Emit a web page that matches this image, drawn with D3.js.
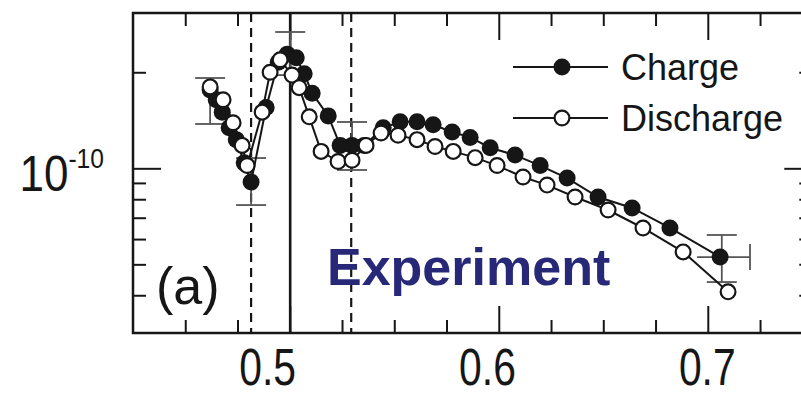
<!DOCTYPE html>
<html>
<head>
<meta charset="utf-8">
<script src="https://cdn.jsdelivr.net/npm/d3@7"></script>
<style>
body{margin:0;background:#fff;}
svg{display:block;font-family:"Liberation Sans",Arial,Helvetica,sans-serif;}
</style>
</head>
<body>
<div class="plot"></div>
<script>
// values (x = composition, D in cm2/s)
var chargeX = [0.4619,0.4648,0.4677,0.4710,0.4744,0.4782,0.4815,0.4887,0.4945,0.4988,0.5031,0.5069,0.5107,0.5184,0.5241,0.5298,0.5356,0.5447,0.5528,0.5609,0.5686,0.5777,0.5863,0.5959,0.6078,0.6198,0.6327,0.6475,0.6638,0.6819,0.7059];
var chargeD = [1.76e-10,1.64e-10,1.50e-10,1.34e-10,1.23e-10,1.04e-10,0.906e-10,1.55e-10,2.15e-10,2.28e-10,2.22e-10,1.98e-10,1.72e-10,1.46e-10,1.18e-10,1.18e-10,1.18e-10,1.34e-10,1.40e-10,1.40e-10,1.37e-10,1.30e-10,1.25e-10,1.16e-10,1.10e-10,1.02e-10,0.932e-10,0.813e-10,0.751e-10,0.650e-10,0.527e-10];

var dischargeX = [0.4619,0.4681,0.4729,0.4772,0.4796,0.4868,0.4906,0.4954,0.5011,0.5045,0.5093,0.5150,0.5231,0.5298,0.5365,0.5437,0.5518,0.5609,0.5695,0.5782,0.5887,0.5992,0.6116,0.6231,0.6365,0.6523,0.6690,0.6882,0.7097];
var dischargeD = [1.80e-10,1.64e-10,1.39e-10,1.18e-10,1.02e-10,1.50e-10,2.00e-10,2.19e-10,1.96e-10,1.79e-10,1.45e-10,1.13e-10,1.05e-10,1.06e-10,1.18e-10,1.29e-10,1.27e-10,1.23e-10,1.17e-10,1.13e-10,1.08e-10,1.02e-10,0.939e-10,0.886e-10,0.813e-10,0.740e-10,0.650e-10,0.547e-10,0.410e-10];

// vertical error bars
var errX  = [0.4619, 0.4815, 0.5002, 0.5298, 0.7067];
var errLo = [1.377e-10, 0.767e-10, 1.96e-10, 0.988e-10, 0.440e-10];
var errHi = [1.919e-10, 1.077e-10, 2.675e-10, 1.397e-10, 0.618e-10];
// horizontal error bar on last charge point
var hErrY  = [0.527e-10];
var hErrLo = [0.6949];
var hErrHi = [0.7202];

// phase boundary markers
var solidLines  = [0.5002];
var dashedLines = [0.4815, 0.5294];

var xMajor = [0.5, 0.6, 0.7];
var xMinor = [0.45, 0.475, 0.525, 0.55, 0.575, 0.625, 0.65, 0.675, 0.725];
var yMajor = [1e-10];
var yMinor = [4e-11, 5e-11, 6e-11, 7e-11, 8e-11, 9e-11, 2e-10];

var legendNames = ['Charge', 'Discharge'];

var W = 801, H = 398;
var m = {t:13, l:133};
var w = 679.3, h = 320;

var svg = d3.select('.plot').append('svg')
	.attr('width', W)
	.attr('height', H);

var g = svg.append('g')
	.attr('transform', 'translate(' + m.l + ',' + m.t + ')');

var x = d3.scaleLinear().domain([0.425, 0.75]).range([0, w]);
var y = d3.scaleLog().domain([3.046e-11, 3.068e-10]).range([h, 0]);

var ink = '#161616';

// axes, ticks pointing inward
function styleAxis(sel){
	sel.select('.domain').remove();
	sel.selectAll('.tick line').attr('stroke', ink).attr('stroke-width', 2);
}
g.append('g').attr('transform', 'translate(0,' + h + ')')
	.call(d3.axisBottom(x).tickValues(xMinor).tickSize(-13).tickFormat('')).call(styleAxis);
var bx = g.append('g').attr('transform', 'translate(0,' + h + ')')
	.call(d3.axisBottom(x).tickValues(xMajor).tickSize(-27).tickPadding(16).tickFormat(d3.format('.1f')))
	.call(styleAxis);
// the printed labels drift left of their ticks towards the low end
bx.selectAll('text')
	.attr('font-size', 51).attr('fill', ink)
	.attr('font-family', '"Liberation Sans",Arial,sans-serif')
	.attr('transform', d => 'translate(' + ((d - 0.7) * 108 - 1) + ',0) scale(0.8,1)');

g.append('g').call(d3.axisTop(x).tickValues(xMinor).tickSize(-13).tickFormat('')).call(styleAxis);
g.append('g').call(d3.axisTop(x).tickValues(xMajor).tickSize(-27).tickFormat('')).call(styleAxis);

g.append('g').call(d3.axisLeft(y).tickValues(yMinor).tickSize(-13).tickFormat('')).call(styleAxis);
g.append('g').call(d3.axisLeft(y).tickValues(yMajor).tickSize(-28).tickFormat('')).call(styleAxis);
g.append('g').attr('transform', 'translate(' + w + ',0)')
	.call(d3.axisRight(y).tickValues(yMinor).tickSize(-13).tickFormat('')).call(styleAxis);
g.append('g').attr('transform', 'translate(' + w + ',0)')
	.call(d3.axisRight(y).tickValues(yMajor).tickSize(-28).tickFormat('')).call(styleAxis);

// y label 10^-10
var yl = svg.append('text')
	.attr('transform', 'translate(104,' + (m.t + y(1e-10) + 23) + ') scale(0.88,1)')
	.attr('text-anchor', 'end')
	.attr('fill', ink);
yl.append('tspan').attr('font-size', 50).text('10');
yl.append('tspan').attr('font-size', 28).attr('dy', -23).text('-10');

// frame
g.append('rect')
	.attr('x', 0).attr('y', 0)
	.attr('width', w).attr('height', h)
	.attr('fill', 'none')
	.attr('stroke', ink)
	.attr('stroke-width', 2.5);

// boundary lines
g.selectAll('.solid-line').data(solidLines).enter().append('line')
	.attr('x1', d => x(d)).attr('x2', d => x(d))
	.attr('y1', 0).attr('y2', h)
	.attr('stroke', ink).attr('stroke-width', 2.6);
g.selectAll('.dash-line').data(dashedLines).enter().append('line')
	.attr('x1', d => x(d)).attr('x2', d => x(d))
	.attr('y1', 0).attr('y2', h)
	.attr('stroke', ink).attr('stroke-width', 2.2)
	.attr('stroke-dasharray', '9,6');

// error bars
var errs = d3.zip(errX, errLo, errHi);
var eg = g.append('g').attr('stroke', '#555').attr('stroke-width', 1.8);
errs.forEach(function(e){
	eg.append('line').attr('x1', x(e[0])).attr('x2', x(e[0])).attr('y1', y(e[1])).attr('y2', y(e[2]));
	eg.append('line').attr('x1', x(e[0]) - 15).attr('x2', x(e[0]) + 15).attr('y1', y(e[1])).attr('y2', y(e[1]));
	eg.append('line').attr('x1', x(e[0]) - 15).attr('x2', x(e[0]) + 15).attr('y1', y(e[2])).attr('y2', y(e[2]));
});
d3.zip(hErrY, hErrLo, hErrHi).forEach(function(e){
	eg.append('line').attr('x1', x(e[1])).attr('x2', x(e[2])).attr('y1', y(e[0])).attr('y2', y(e[0]));
	eg.append('line').attr('x1', x(e[2])).attr('x2', x(e[2])).attr('y1', y(e[0]) - 13).attr('y2', y(e[0]) + 13);
});

// series
var line = d3.line().x(d => x(d[0])).y(d => y(d[1]));
var charge = d3.zip(chargeX, chargeD);
var discharge = d3.zip(dischargeX, dischargeD);

g.append('path').datum(charge).attr('d', line)
	.attr('fill', 'none').attr('stroke', ink).attr('stroke-width', 2);
g.selectAll('.c-pt').data(charge).enter().append('circle')
	.attr('cx', d => x(d[0])).attr('cy', d => y(d[1])).attr('r', 8.5)
	.attr('fill', ink);

g.append('path').datum(discharge).attr('d', line)
	.attr('fill', 'none').attr('stroke', ink).attr('stroke-width', 2);
g.selectAll('.d-pt').data(discharge).enter().append('circle')
	.attr('cx', d => x(d[0])).attr('cy', d => y(d[1])).attr('r', 7.4)
	.attr('fill', '#fff').attr('stroke', ink).attr('stroke-width', 2.2);

// legend
var lg = svg.append('g');
legendNames.forEach(function(name, i){
	var ly = i === 0 ? 67 : 118;
	lg.append('line').attr('x1', 513).attr('x2', 608).attr('y1', ly).attr('y2', ly)
		.attr('stroke', ink).attr('stroke-width', 2);
	lg.append('circle').attr('cx', 562).attr('cy', ly).attr('r', i === 0 ? 8.5 : 7.4)
		.attr('fill', i === 0 ? ink : '#fff')
		.attr('stroke', ink).attr('stroke-width', i === 0 ? 0 : 2.2);
	lg.append('text').attr('x', 621).attr('y', ly + 13)
		.attr('font-size', 36).attr('fill', ink).text(name);
});

svg.append('text').attr('x', 156).attr('y', 304)
	.attr('font-size', 52).attr('fill', ink).text('(a)');

svg.append('text').attr('x', 327).attr('y', 285)
	.attr('font-size', 52).attr('font-weight', 'bold')
	.attr('fill', '#282878').text('Experiment');
</script>
</body>
</html>
